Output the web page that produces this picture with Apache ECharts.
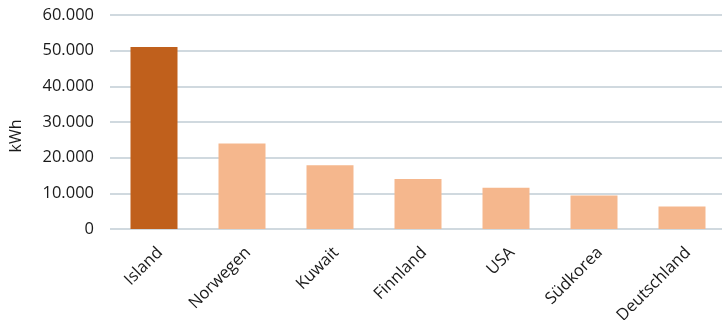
<!DOCTYPE html>
<html><head><meta charset="utf-8">
<script src="https://cdn.jsdelivr.net/npm/echarts@6/dist/echarts.min.js"></script>
<style>html,body{margin:0;padding:0;background:#fff}#c{width:722px;height:320px}</style>
</head><body><div id="c"></div>
<script>
var categories = ["Island","Norwegen","Kuwait","Finnland","USA","Südkorea","Deutschland"];
var values = [51000,24000,17900,14000,11600,9400,6300];
var highlightIndex = 0;
var yTicks = [0,10000,20000,30000,40000,50000,60000];

var chart = echarts.init(document.getElementById('c'));
chart.setOption({
  animation:false,
  grid:{left:110,right:-4,top:15,bottom:91,containLabel:false,outerBoundsMode:'none'},
  xAxis:{type:'category',data:categories,
    axisLine:{show:false},axisTick:{show:false},
    axisLabel:{rotate:45,color:'#1a1a1a',fontFamily:'Open Sans',fontSize:16.5,margin:15,interval:0,verticalAlign:'top'}},
  yAxis:{type:'value',min:yTicks[0],max:yTicks[yTicks.length-1],interval:10000,
    name:'kWh',nameLocation:'middle',nameGap:86,nameRotate:90,
    nameTextStyle:{color:'#1a1a1a',fontFamily:'Open Sans',fontSize:16,padding:[0,28,0,0]},
    axisLabel:{color:'#1a1a1a',fontFamily:'Open Sans',fontSize:16.5,margin:16,
      formatter:function(v){return v===0?'0':v.toLocaleString('de-DE');}},
    splitLine:{lineStyle:{color:'#d0d9df',width:2}}},
  series:[{type:'bar',barWidth:47,
    data:values.map(function(v,i){return {value:v,itemStyle:{color:i===highlightIndex?'#c0601c':'#f5b78d'}};})}]
});
</script></body></html>
